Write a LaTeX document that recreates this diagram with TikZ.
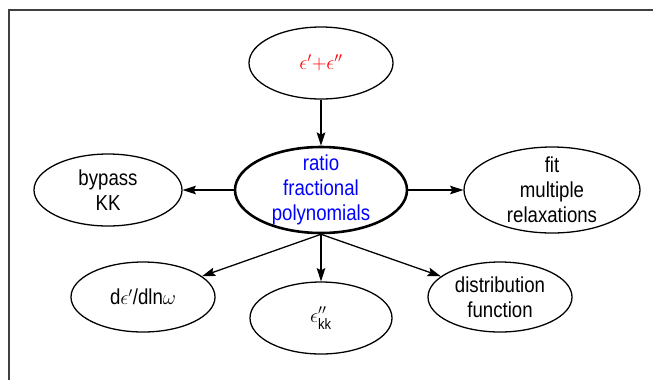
\documentclass[tikz,border=0pt]{standalone}
\usepackage{fontspec}
\usepackage{amsmath}
\setmainfont[FakeStretch=0.86]{Liberation Sans}
\usetikzlibrary{shapes,arrows,positioning,arrows.meta}

\tikzset{
    bubble/.style={draw, ellipse, line width=1.1pt, inner sep=-8mm, align=center,
        font=\fontsize{18.5}{21.5}\selectfont},
    hub/.style={bubble, line width=2.2pt},
    link/.style={line width=1.1pt, -{Stealth[length=4mm, width=2.6mm, inset=0.7mm]}}
}

\begin{document}
\begin{tikzpicture}[x=0.03cm, y=-0.03cm]
    \useasboundingbox (0,0) rectangle (653,380);

    % frame
    \draw [line width=1.3pt, black!75] (9,380) -- (9,10) -- (653,10);

    % centre
    \node[hub, minimum width=5.16cm, minimum height=2.58cm, text=blue] (ratio) at (321,190)
        {ratio\\fractional\\polynomials};

    % top
    \node[bubble, minimum width=4.32cm, minimum height=2.16cm, text=red] (sum) at (321,63)
        {$\epsilon'{+}\epsilon''$};

    % left and right
    \node[bubble, minimum width=4.44cm, minimum height=2.16cm] (bypass) at (108,190)
        {bypass\\KK};
    \node[bubble, minimum width=5.28cm, minimum height=2.58cm] (fit) at (552,190)
        {fit\\multiple\\relaxations};

    % bottom row
    \node[bubble, minimum width=4.32cm, minimum height=2.1cm] (deriv) at (143,297)
        {d$\epsilon'$/dln$\omega$};
    \node[bubble, minimum width=4.26cm, minimum height=2.16cm] (kk) at (321,318)
        {$\epsilon''_{\text{kk}}$};
    \node[bubble, minimum width=4.32cm, minimum height=2.1cm] (dist) at (500,297)
        {distribution\\function};

    % arrows
    \draw [link] (sum) -- (ratio);
    \draw [link] (ratio) -- (bypass);
    \draw [link] (ratio) -- (fit);
    \draw [link] (ratio.south) -- (deriv);
    \draw [link] (ratio.south) -- (kk);
    \draw [link] (ratio.south) -- (dist);
\end{tikzpicture}
\end{document}
